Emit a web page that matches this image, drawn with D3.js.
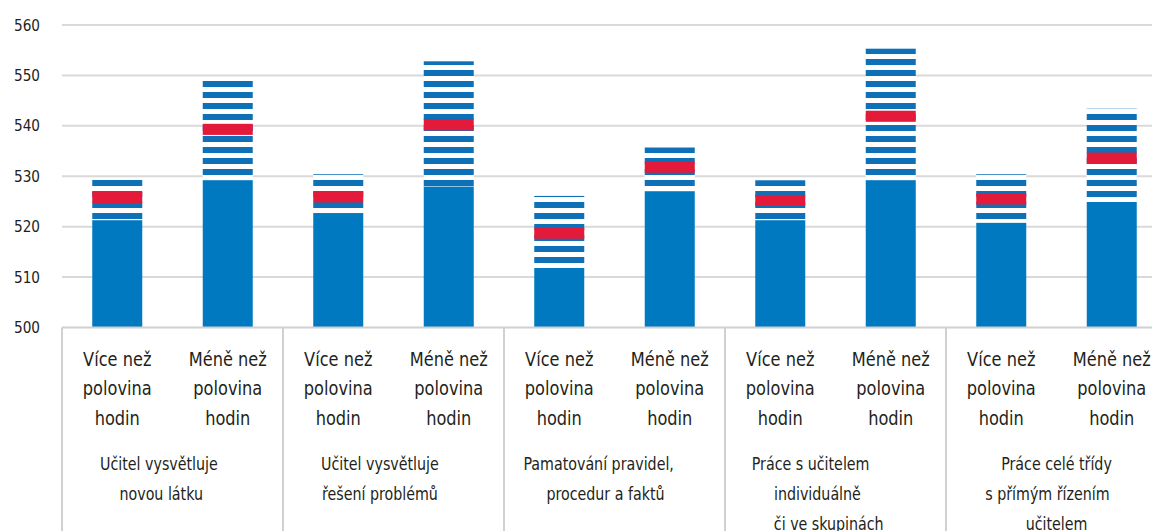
<!DOCTYPE html>
<html lang="cs">
<head>
<meta charset="utf-8">
<title>Průměrný výsledek podle způsobu výuky</title>
<script src="https://d3js.org/d3.v7.min.js"></script>
<style>
  html, body { margin: 0; padding: 0; background: #fff; }
  svg { display: block; }
  text { font-family: "Liberation Sans Narrow", "DejaVu Sans Condensed", "Roboto", sans-serif; fill: #231f20; }
  .lbl { white-space: pre; }
</style>
</head>
<body>
<svg id="chart" width="1152" height="531"></svg>
<script>
// category groups (label lines, trailing spaces kept like in the original sheet)
const groupLabels = [
  ["Učitel vysvětluje      ", "novou látku     "],
  ["Učitel vysvětluje      ", "řešení problémů      "],
  ["Pamatování pravidel,       ", "procedur a faktů    "],
  ["Práce s učitelem           ", "individuálně        ", "či ve skupinách   "],
  ["Práce celé třídy", "s přímým řízením    ", "učitelem"]
];
const subLabels = [
  ["Více než", "polovina", "hodin"],
  ["Méně než", "polovina", "hodin"]
];
// one value per bar, groups in order, "více" then "méně"
const lowerBound = [521.3, 529.2, 522.7, 528.0, 511.8, 527.0, 521.3, 529.2, 520.8, 524.9];
const upperBound = [529.4, 548.9, 530.4, 552.8, 526.1, 535.7, 529.2, 555.3, 530.4, 543.4];
const means      = [525.8, 539.3, 525.9, 540.2, 518.7, 531.8, 525.2, 541.9, 525.5, 533.6];
const yTicks = [500, 510, 520, 530, 540, 550, 560];

const svg = d3.select("#chart");
const plotLeft = 62, plotRight = 1167, plotTop = 25, plotBottom = 327.5;

const bars = [];
groupLabels.forEach((g, gi) => {
  subLabels.forEach((s, si) => {
    const i = gi * 2 + si;
    bars.push({ group: gi, sub: si, lo: lowerBound[i], hi: upperBound[i], mean: means[i] });
  });
});

const y = d3.scaleLinear().domain([500, 560]).range([plotBottom, plotTop]);
const x0 = d3.scaleBand().domain(d3.range(groupLabels.length)).range([plotLeft, plotRight]).padding(0);
const x1 = d3.scaleBand().domain(d3.range(subLabels.length)).range([0, x0.bandwidth()])
  .paddingInner(0.5475).paddingOuter(0.27375);

// stripe pattern for the confidence band
const defs = svg.append("defs");
const pat = defs.append("pattern")
  .attr("id", "stripes")
  .attr("patternUnits", "userSpaceOnUse")
  .attr("x", 0).attr("y", 4)
  .attr("width", 20).attr("height", 11);
pat.append("rect").attr("width", 20).attr("height", 11).attr("fill", "#fff");
pat.append("rect").attr("width", 20).attr("height", 6).attr("fill", "#0e71b8");

// gridlines
svg.append("g").selectAll("line").data(yTicks.filter(t => t > 500)).join("line")
  .attr("x1", plotLeft).attr("x2", plotRight)
  .attr("y1", d => y(d)).attr("y2", d => y(d))
  .attr("stroke", "#d9d9d9").attr("stroke-width", 2);

// y labels (narrowed a bit, the original face is a condensed one)
svg.append("g").selectAll("text").data(yTicks).join("text")
  .attr("transform", d => `translate(40,${y(d) + 5.5}) scale(0.92,1)`)
  .attr("text-anchor", "end")
  .attr("font-size", 16.5)
  .text(d => d);

const bx = d => x0(d.group) + x1(d.sub);

// solid part
svg.append("g").selectAll("rect").data(bars).join("rect")
  .attr("x", bx).attr("width", x1.bandwidth())
  .attr("y", d => y(d.lo)).attr("height", d => y(500) - y(d.lo))
  .attr("fill", "#0079c1");

// striped interval
svg.append("g").selectAll("rect").data(bars).join("rect")
  .attr("x", bx).attr("width", x1.bandwidth())
  .attr("y", d => y(d.hi)).attr("height", d => y(d.lo) - y(d.hi))
  .attr("fill", "url(#stripes)");

// mean marker
svg.append("g").selectAll("rect").data(bars).join("rect")
  .attr("x", bx).attr("width", x1.bandwidth())
  .attr("y", d => y(d.mean + 1.1)).attr("height", d => y(d.mean - 1.1) - y(d.mean + 1.1))
  .attr("fill", "#e31a3a");

// category axis box
const axis = svg.append("g");
axis.append("line")
  .attr("x1", plotLeft).attr("x2", plotRight).attr("y1", plotBottom).attr("y2", plotBottom)
  .attr("stroke", "#d0d0d0").attr("stroke-width", 2);
axis.selectAll("line.sep").data(d3.range(groupLabels.length)).join("line")
  .attr("class", "sep")
  .attr("x1", d => x0(d)).attr("x2", d => x0(d))
  .attr("y1", plotBottom).attr("y2", 531)
  .attr("stroke", "#d0d0d0").attr("stroke-width", 2);

// bar labels
const subText = axis.selectAll("text.sub").data(bars).join("text")
  .attr("class", "sub lbl")
  .attr("transform", d => `translate(${bx(d) + x1.bandwidth() / 2},0) scale(0.9,1)`)
  .attr("text-anchor", "middle")
  .attr("font-size", 20);
subText.selectAll("tspan").data(d => subLabels[d.sub])
  .join("tspan")
  .attr("x", 0)
  .attr("y", (d, i) => 366 + i * 29.3)
  .text(d => d);

// group labels
const grpText = axis.selectAll("text.grp").data(groupLabels).join("text")
  .attr("class", "grp lbl")
  .attr("transform", (d, gi) => `translate(${x0(gi) + x0.bandwidth() / 2},0) scale(0.88,1)`)
  .attr("text-anchor", "middle")
  .attr("font-size", 18);
grpText.selectAll("tspan").data(d => d)
  .join("tspan")
  .attr("x", 0)
  .attr("y", (d, i) => 470 + i * 30)
  .text(d => d);
</script>
</body>
</html>
